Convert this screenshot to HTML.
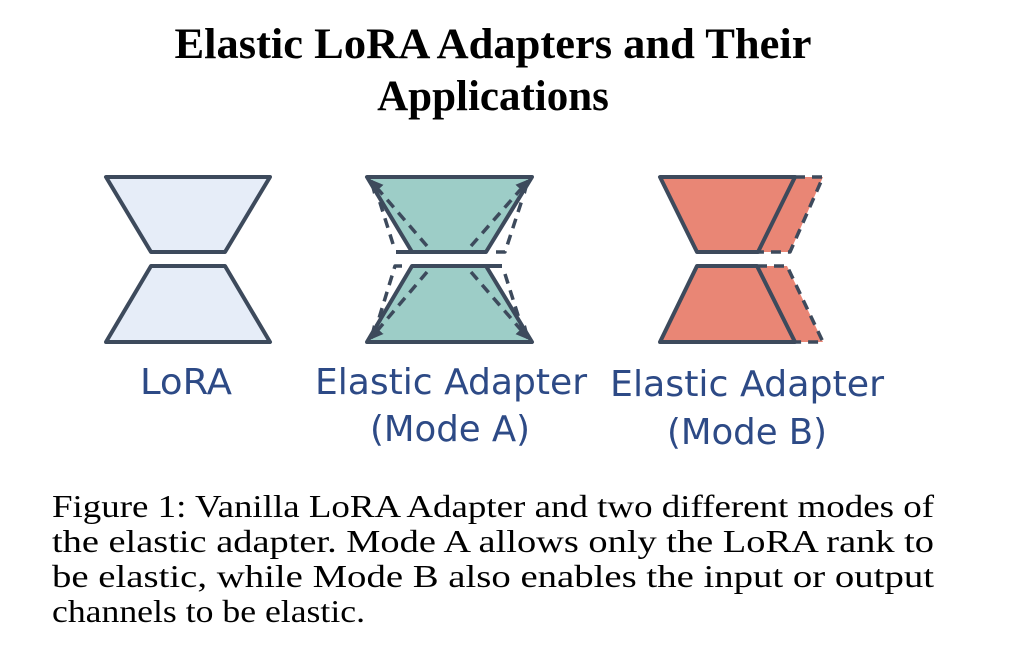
<!DOCTYPE html>
<html><head><style>
html,body{margin:0;padding:0;background:#fff;width:1024px;height:670px;overflow:hidden}
</style></head><body>
<svg width="1024" height="670" viewBox="0 0 1024 670" xmlns="http://www.w3.org/2000/svg">
<defs>
<marker id="ar" viewBox="0 0 10 10" refX="8" refY="5" markerWidth="4" markerHeight="4" orient="auto"><path d="M0,0 L10,5 L0,10 z" fill="#3d4a5c"/></marker>
</defs>
<g font-family="Liberation Serif, serif" font-weight="bold" font-size="43" text-anchor="middle" fill="#000">
<text x="493" y="58" textLength="637" lengthAdjust="spacingAndGlyphs">Elastic LoRA Adapters and Their</text>
<text x="493" y="110">Applications</text>
</g>
<g stroke="#3d4a5c" stroke-width="4" stroke-linejoin="round" fill="none">
<polygon points="106,177 270,177 225,252 151,252" fill="#e6edf8"/>
<polygon points="151,266 225,266 270,342 106,342" fill="#e6edf8"/>
<polygon points="367,177 532,177 486,252 412,252" fill="#9dcdc7"/>
<polygon points="412,266 486,266 532,342 367,342" fill="#9dcdc7"/>
<g stroke-dasharray="10,7" stroke-width="3.5">
<line x1="427" y1="246" x2="371" y2="181" marker-end="url(#ar)"/>
<line x1="471" y1="246" x2="528" y2="181" marker-end="url(#ar)"/>
<line x1="427" y1="272" x2="371" y2="338" marker-end="url(#ar)"/>
<line x1="471" y1="272" x2="528" y2="338" marker-end="url(#ar)"/>
<line x1="393" y1="244" x2="376" y2="190"/>
<polyline points="496,252 505,252 522,200"/>
<polyline points="402,266 395,266 376,328"/>
<line x1="505" y1="274" x2="522" y2="328"/>
</g>
<line x1="396" y1="252" x2="412" y2="252"/>
<line x1="486" y1="266" x2="502" y2="266"/>
<polygon points="795,177 823,177 790,252 758,252" fill="#e98675" stroke="none"/>
<polygon points="757,266 787,266 823,342 795,342" fill="#e98675" stroke="none"/>
<polygon points="660,177 795,177 758,252 697,252" fill="#e98675"/>
<polygon points="697,266 757,266 795,342 660,342" fill="#e98675"/>
<g stroke-dasharray="10,7" stroke-width="3.5">
<polyline points="795,177 823,177 790,252 758,252"/>
<polyline points="757,266 787,266 823,342 795,342"/>
</g>
</g>
<g font-family="DejaVu Sans Condensed, DejaVu Sans, sans-serif" font-size="36" fill="#2d4a86">
<text x="140" y="394" textLength="92" lengthAdjust="spacingAndGlyphs">LoRA</text>
<text x="315" y="394" textLength="272" lengthAdjust="spacingAndGlyphs">Elastic Adapter</text>
<text x="370" y="441" textLength="160" lengthAdjust="spacingAndGlyphs">(Mode A)</text>
<text x="610" y="396" textLength="274" lengthAdjust="spacingAndGlyphs">Elastic Adapter</text>
<text x="667" y="444" textLength="160" lengthAdjust="spacingAndGlyphs">(Mode B)</text>
</g>
<g font-family="Liberation Serif, serif" font-size="32" fill="#000">
<text x="52" y="517" textLength="882" lengthAdjust="spacingAndGlyphs">Figure 1: Vanilla LoRA Adapter and two different modes of</text>
<text x="52" y="552" textLength="882" lengthAdjust="spacingAndGlyphs">the elastic adapter. Mode A allows only the LoRA rank to</text>
<text x="52" y="587" textLength="882" lengthAdjust="spacingAndGlyphs">be elastic, while Mode B also enables the input or output</text>
<text x="52" y="622" textLength="313" lengthAdjust="spacingAndGlyphs">channels to be elastic.</text>
</g>
</svg>
</body></html>
